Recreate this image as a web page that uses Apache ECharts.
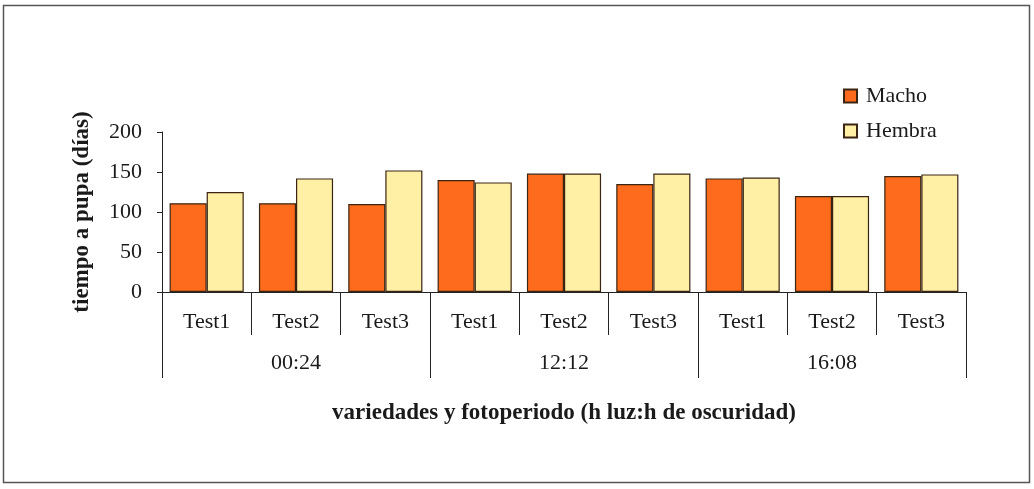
<!DOCTYPE html>
<html>
<head>
<meta charset="utf-8">
<script src="https://cdn.jsdelivr.net/npm/echarts@6/dist/echarts.min.js"></script>
<style>html,body{margin:0;padding:0;background:#fff;}#c{width:1034px;height:489px;}</style>
</head>
<body>
<div id="c"></div>
<script>
const tests = ['Test1','Test2','Test3','Test1','Test2','Test3','Test1','Test2','Test3'];
const groups = ['00:24','12:12','16:08'];
const macho = [111, 111, 110, 140, 148, 135, 142, 120, 145];
const hembra = [125, 142, 152, 137, 148, 148, 143, 120, 147];
const yTicks = [0, 50, 100, 150, 200];

const FONT = '"Liberation Serif", "Times New Roman", serif';
const chart = echarts.init(document.getElementById('c'));
chart.setOption({
  animation: false,
  backgroundColor: '#fff',
  textStyle: { fontFamily: FONT, color: '#1a1a1a' },
  graphic: [{
    type: 'rect', shape: { x: 3.5, y: 5.5, width: 1026, height: 477 },
    style: { fill: 'none', stroke: '#555', lineWidth: 1.5 }, silent: true
  }],
  legend: {
    orient: 'vertical', left: 843, top: 85, padding: 0, itemWidth: 13, itemHeight: 13, itemGap: 13,
    icon: 'rect',
    textStyle: { fontFamily: FONT, fontSize: 22, color: '#1a1a1a', padding: [0, 0, 0, 4] },
    data: ['Macho', 'Hembra']
  },
  grid: { left: 162, right: 68, top: 132, bottom: 197 },
  xAxis: [{
    type: 'category', data: tests, position: 'bottom',
    axisLine: { show: true, lineStyle: { color: '#222', width: 1 } },
    axisTick: { show: true, length: 43, interval: 0, lineStyle: { color: '#222' } },
    axisLabel: { fontFamily: FONT, fontSize: 22, color: '#1a1a1a', margin: 19, interval: 0 }
  }, {
    type: 'category', data: groups, position: 'bottom',
    axisLine: { show: false },
    axisTick: { show: true, length: 86, interval: 0, lineStyle: { color: '#222' } },
    axisLabel: { fontFamily: FONT, fontSize: 22, color: '#1a1a1a', margin: 60, interval: 0 },
    name: 'variedades y fotoperiodo (h luz:h de oscuridad)',
    nameLocation: 'middle', nameGap: 110,
    nameTextStyle: { fontFamily: FONT, fontSize: 23, fontWeight: 'bold', color: '#1a1a1a' }
  }],
  yAxis: {
    type: 'value', min: yTicks[0], max: yTicks[yTicks.length - 1], interval: 50,
    axisLine: { show: true, lineStyle: { color: '#222', width: 1 } },
    axisTick: { show: true, length: 5, lineStyle: { color: '#222' } },
    splitLine: { show: false },
    axisLabel: { fontFamily: FONT, fontSize: 22, color: '#1a1a1a', margin: 20 },
    name: 'tiempo a pupa (días)', nameLocation: 'middle', nameGap: 68, nameRotate: 90,
    nameTextStyle: { fontFamily: FONT, fontSize: 23, fontWeight: 'bold', color: '#1a1a1a' }
  },
  series: [{
    name: 'Macho', type: 'bar', data: macho, barGap: '0%', barCategoryGap: '17%',
    itemStyle: { color: '#FF6B1C', borderColor: '#3a2412', borderWidth: 1.2 }
  }, {
    name: 'Hembra', type: 'bar', data: hembra,
    itemStyle: { color: '#FFF0A6', borderColor: '#3a2412', borderWidth: 1.2 }
  }]
});
</script>
</body>
</html>
